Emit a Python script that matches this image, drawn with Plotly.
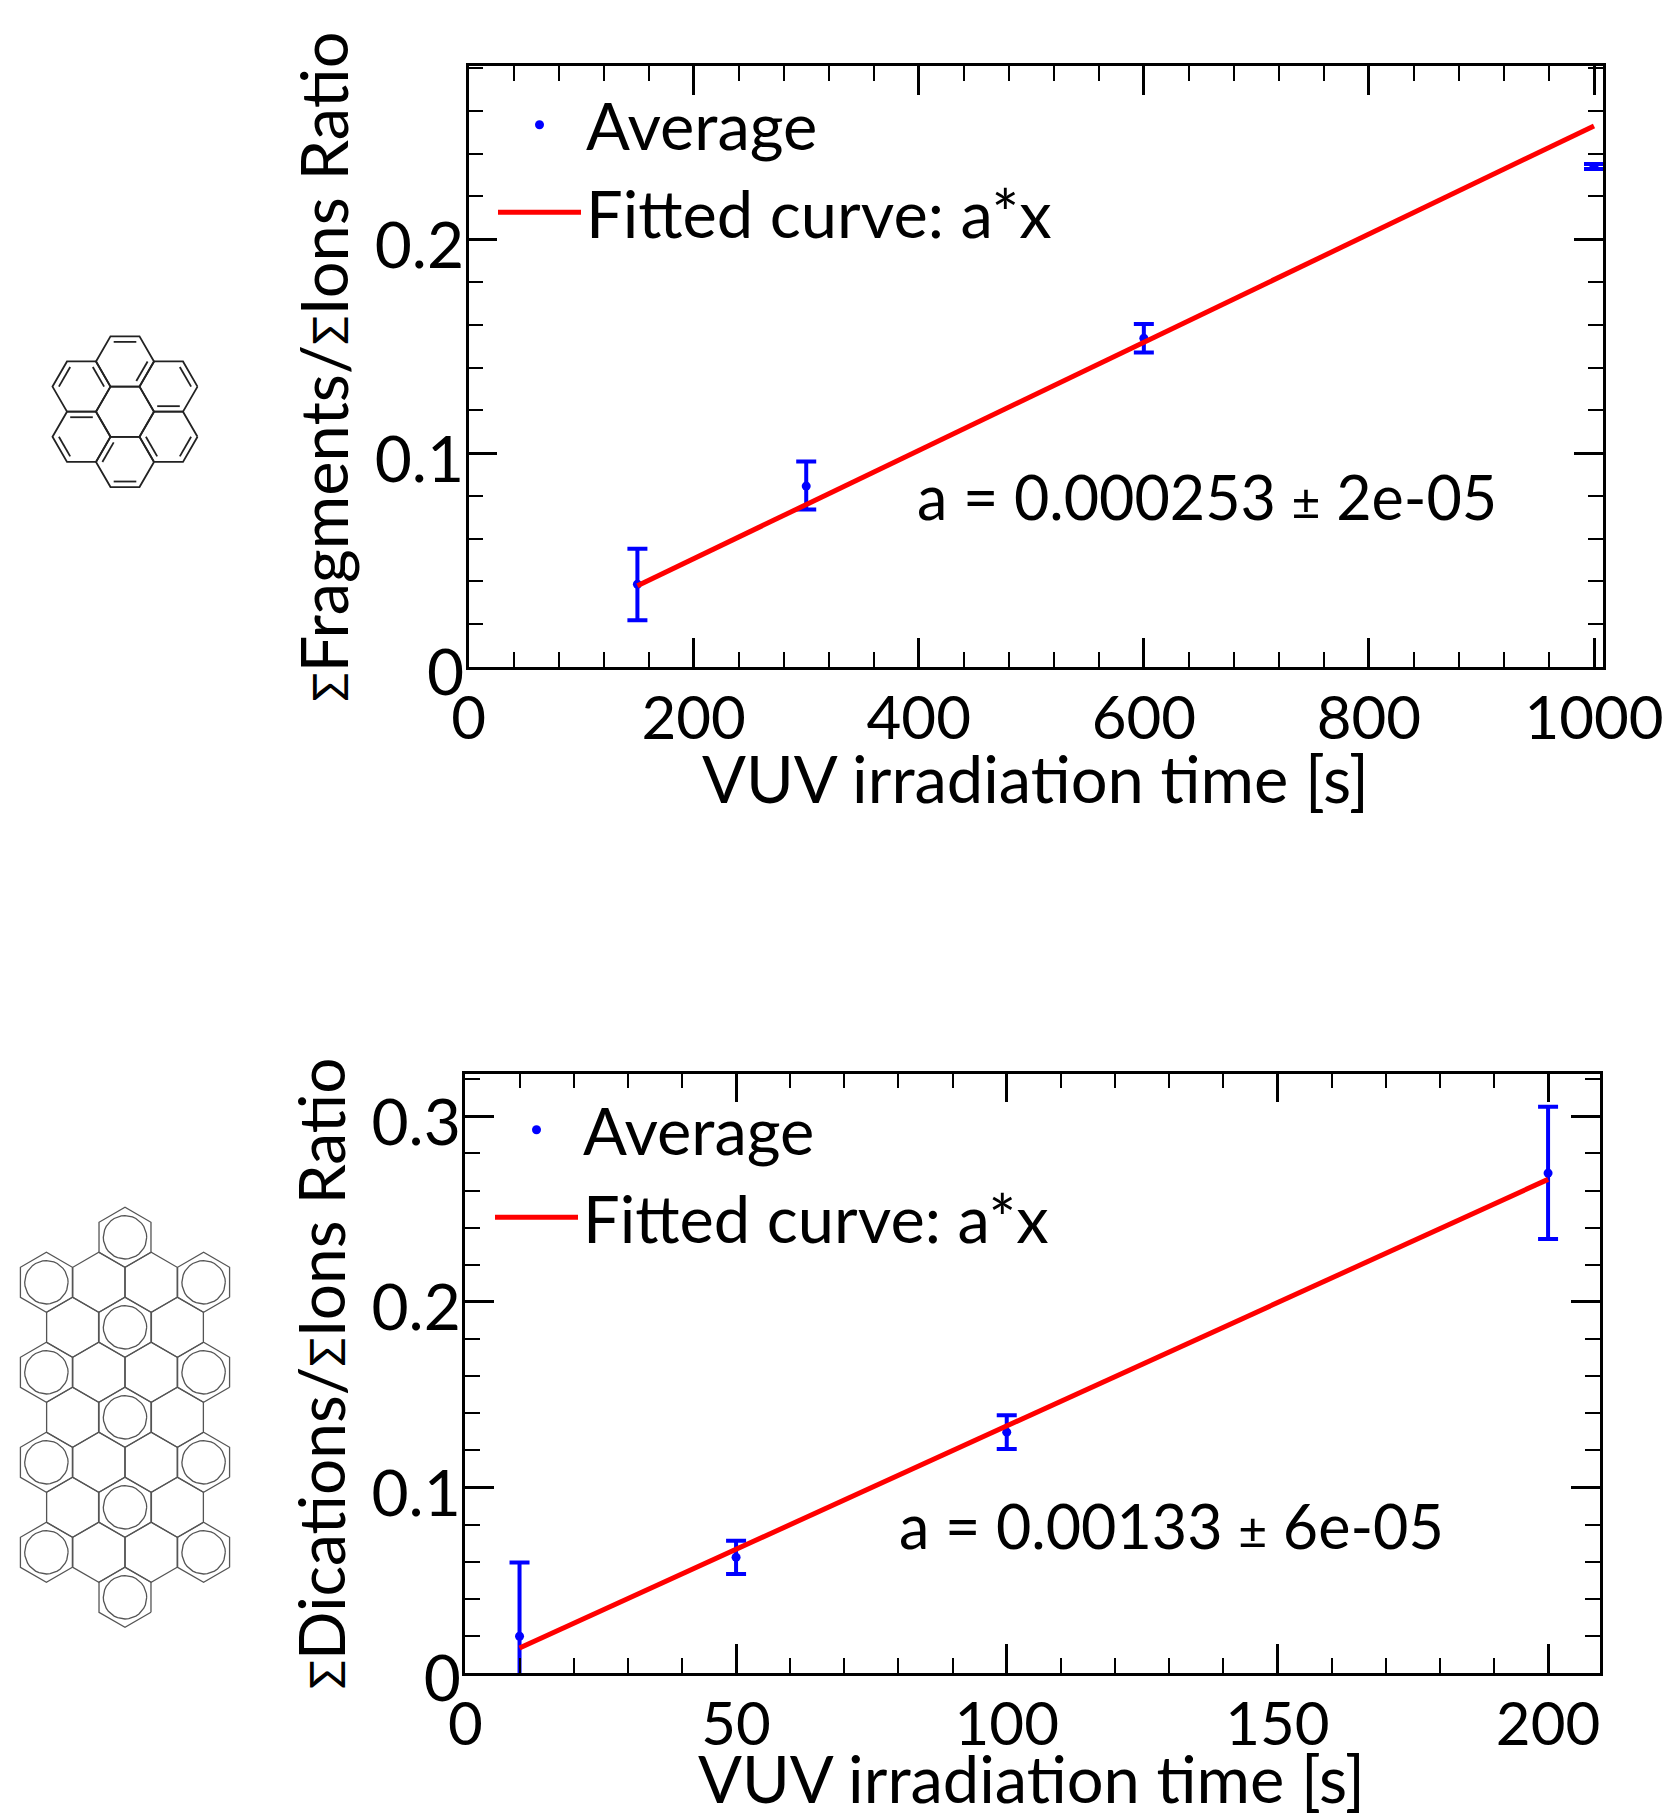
import math
import plotly.graph_objects as go

FONT = "Lato, 'DejaVu Sans', sans-serif"
BLUE = "#0000ff"
RED = "#ff0000"

# --- top panel data
top_x = [150, 300, 600, 1000]
top_y = [0.0387, 0.0846, 0.1537, 0.234]
top_err_up = [0.0166, 0.0115, 0.0067, 0.0012]
top_err_dn = [0.0168, 0.0110, 0.0067, 0.0012]
top_fit_x = [150, 1000]
top_fit_y = [0.038, 0.253]
top_xticks = [0, 200, 400, 600, 800, 1000]
top_xlabels = ["0", "200", "400", "600", "800", "1000"]
top_yticks = [0, 0.1, 0.2]
top_ylabels = ["0", "0.1", "0.2"]

# --- bottom panel data
bot_x = [10, 50, 100, 200]
bot_y = [0.0198, 0.0624, 0.1298, 0.2694]
bot_err_up = [0.0398, 0.0088, 0.0091, 0.0357]
bot_err_dn = [0.0398, 0.0091, 0.0091, 0.0355]
bot_fit_x = [10, 200]
bot_fit_y = [0.0135, 0.266]
bot_xticks = [0, 50, 100, 150, 200]
bot_xlabels = ["0", "50", "100", "150", "200"]
bot_yticks = [0, 0.1, 0.2, 0.3]
bot_ylabels = ["0", "0.1", "0.2", "0.3"]

W, H = 1666, 1815
SIG = '<span style="font-size:48px">Σ</span>'
TICK_SIZE_X = 60
TICK_SIZE_Y = 64
TEXT_SIZE = 65

fig = go.Figure()


def add_panel(x, y, up, dn, fx, fy, xa, ya, legend, showfit_name):
    fig.add_trace(go.Scatter(
        x=x, y=y, mode="markers", name="Average", xaxis=xa, yaxis=ya, legend=legend,
        marker=dict(color=BLUE, size=9),
        error_y=dict(type="data", symmetric=False, array=up, arrayminus=dn,
                     color=BLUE, thickness=4, width=10)))
    fig.add_trace(go.Scatter(
        x=fx, y=fy, mode="lines", name=showfit_name, xaxis=xa, yaxis=ya, legend=legend,
        line=dict(color=RED, width=5)))


add_panel(top_x, top_y, top_err_up, top_err_dn, top_fit_x, top_fit_y, "x", "y", "legend", "Fitted curve: a*x")
add_panel(bot_x, bot_y, bot_err_up, bot_err_dn, bot_fit_x, bot_fit_y, "x2", "y2", "legend2", "Fitted curve: a*x")


# --- molecule drawings on a hidden pixel-scaled axis pair
def hex_pts(cx, cy, a, start):
    return [(cx + a * math.cos(math.radians(start + 60 * k)),
             cy + a * math.sin(math.radians(start + 60 * k))) for k in range(7)]


mol_x, mol_y = [], []


def seg(pts, store_x=mol_x, store_y=mol_y):
    store_x.extend(p[0] for p in pts)
    store_x.append(None)
    store_y.extend(p[1] for p in pts)
    store_y.append(None)


# coronene
cx0, cy0, a0 = 125.0, 411.7, 29.0
h0 = a0 * math.sqrt(3)
seg(hex_pts(cx0, cy0, a0, 0))
for k in range(6):
    th = -90 + 60 * k
    c = (cx0 + h0 * math.cos(math.radians(th)), cy0 + h0 * math.sin(math.radians(th)))
    seg(hex_pts(c[0], c[1], a0, 0))
    for nrm in (th, th + 120):
        seg([(c[0] + 0.78 * a0 * math.cos(math.radians(nrm + d)),
              c[1] + 0.78 * a0 * math.sin(math.radians(nrm + d))) for d in (-30, 30)])
fig.add_trace(go.Scatter(x=mol_x, y=mol_y, mode="lines", xaxis="x3", yaxis="y3", showlegend=False,
                         hoverinfo="skip", line=dict(color="#222222", width=1.8)))

# large PAH
cx1, cy1, a1, hw1, rowh = 125.0, 1237.3, 30.0, 26.2, 45.0
rows_clear = {1: [-1, 1], 2: [-2, 2], 3: [-1, 1], 4: [-2, 2], 5: [-1, 1], 6: [-2, 2], 7: [-1, 1]}
rows_ring = {0: [0], 1: [-3, 3], 2: [0], 3: [-3, 3], 4: [0], 5: [-3, 3], 6: [0], 7: [-3, 3], 8: [0]}
px, py = [], []
for r, cols in rows_clear.items():
    for c in cols:
        seg(hex_pts(cx1 + c * hw1, cy1 + r * rowh, a1, 30), px, py)
for r, cols in rows_ring.items():
    for c in cols:
        x0, y0 = cx1 + c * hw1, cy1 + r * rowh
        seg(hex_pts(x0, y0, a1, 30), px, py)
        seg([(x0 + 21.7 * math.cos(math.radians(t)), y0 + 21.7 * math.sin(math.radians(t)))
             for t in range(0, 361, 10)], px, py)
fig.add_trace(go.Scatter(x=px, y=py, mode="lines", xaxis="x3", yaxis="y3", showlegend=False,
                         hoverinfo="skip", line=dict(color="#555555", width=1.3)))


def axis(domain, rng, vals, labels, minor_dt, title, anchor, standoff, lab_off, lab_shift, tick_size, title_size=TEXT_SIZE):
    d = dict(
        domain=domain, range=rng, anchor=anchor, tickmode="array", tickvals=vals, ticktext=labels,
        ticks="inside", ticklen=29, tickwidth=2.5, tickcolor="black",
        ticklabelstandoff=lab_off, ticklabelshift=lab_shift,
        minor=dict(ticks="inside", ticklen=15, tickwidth=2, tickcolor="black", tick0=0, dtick=minor_dt, showgrid=False),
        showline=True, linecolor="black", linewidth=2.5, mirror="ticks", showgrid=False, zeroline=False,
        tickfont=dict(family=FONT, size=tick_size, color="black"),
        automargin=False)
    if title:
        d["title"] = dict(text=title, font=dict(family=FONT, size=title_size, color="black"), standoff=standoff)
    return d


def legend_cfg(x, y):
    return dict(x=x, y=y, xanchor="left", yanchor="top", bgcolor="rgba(0,0,0,0)", borderwidth=0,
                itemwidth=83, font=dict(family=FONT, size=TEXT_SIZE, color="black"), tracegroupgap=0,
                itemsizing="trace")


xtitle = "VUV irradiation time [s]"
fig.update_layout(
    width=W, height=H, margin=dict(l=0, r=0, t=0, b=0), paper_bgcolor="white", plot_bgcolor="rgba(0,0,0,0)",
    showlegend=True,
    xaxis=axis([468.6 / W, 1603 / W], [0, 1008], top_xticks, top_xlabels, 40, None, "y", 0, -3, 0, TICK_SIZE_X),
    yaxis=axis([1 - 667 / H, 1 - 66 / H], [0, 0.281], top_yticks, top_ylabels, 0.02,
               f"{SIG}Fragments/{SIG}Ions Ratio", "x", 5, -11, 6, TICK_SIZE_Y),
    xaxis2=axis([465.4 / W, 1599.5 / W], [0, 209.5], bot_xticks, bot_xlabels, 10, None, "y2", 0, -3, 0, TICK_SIZE_X),
    yaxis2=axis([1 - 1673 / H, 1 - 1073.6 / H], [0, 0.323], bot_yticks, bot_ylabels, 0.02,
                f"{SIG}Dications/{SIG}Ions Ratio", "x2", 6, -11, 6, TICK_SIZE_Y, 64),
    xaxis3=dict(domain=[0, 1], range=[0, W], visible=False, anchor="y3", fixedrange=True),
    yaxis3=dict(domain=[0, 1], range=[H, 0], visible=False, anchor="x3", fixedrange=True),
    legend=legend_cfg(493 / W, 1 - 76 / H),
    legend2=legend_cfg(490 / W, 1 - 1081 / H),
    annotations=[
        dict(x=1035, y=778, xref="x3", yref="y3", xanchor="center", yanchor="middle", showarrow=False,
             text=xtitle, font=dict(family=FONT, size=TEXT_SIZE, color="black")),
        dict(x=1031, y=1778, xref="x3", yref="y3", xanchor="center", yanchor="middle", showarrow=False,
             text=xtitle, font=dict(family=FONT, size=TEXT_SIZE, color="black")),
        dict(x=397, y=0.0795, xref="x", yref="y", xanchor="left", yanchor="middle", showarrow=False,
             text='a = 0.000253 <span style="font-size:50px">±</span> 2e-05',
             font=dict(family=FONT, size=61, color="black")),
        dict(x=79.8, y=0.0795, xref="x2", yref="y2", xanchor="left", yanchor="middle", showarrow=False,
             text='a = 0.00133 <span style="font-size:50px">±</span> 6e-05',
             font=dict(family=FONT, size=61, color="black")),
    ],
)

fig.write_html("out.html", post_script="document.body.style.margin='0';", config=dict(displayModeBar=False))
